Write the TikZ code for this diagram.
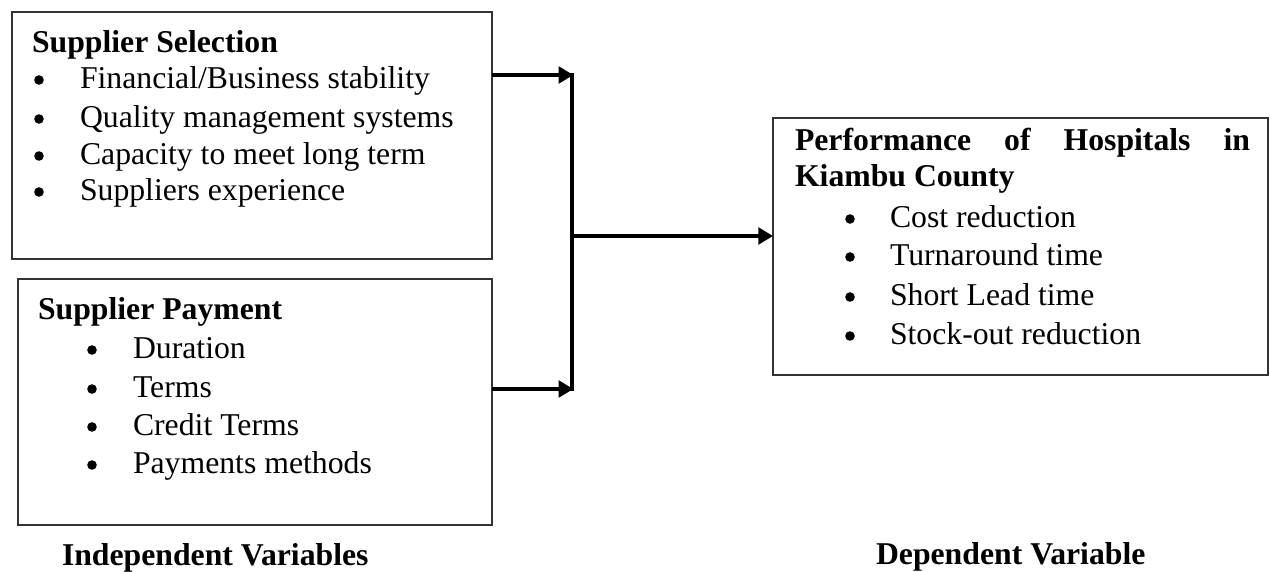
\documentclass[tikz,border=0pt]{standalone}
\usepackage{fontspec}
\setmainfont{Liberation Serif}
\usetikzlibrary{arrows.meta,fit}
\begin{document}
\begin{tikzpicture}[x=0.75pt,y=-0.75pt,
  every node/.style={inner sep=0pt,outer sep=0pt,font=\fontsize{23.8pt}{28pt}\selectfont},
  box/.style={draw=black!80,line width=1.1pt,inner sep=0pt},
  txt/.style={anchor=base west},
  hdr/.style={anchor=base west,font=\fontsize{23.8pt}{28pt}\selectfont\bfseries},
  bul/.style={circle,fill=black,minimum size=7.2pt,yshift=6pt},
  arr/.style={line width=2.3pt,-{Triangle[length=11pt,width=12.5pt]}},
  bar/.style={line width=3.4pt}
]
\useasboundingbox (0,0) rectangle (1270,571);
% boxes
\node[box,fit={(12,12)(492,259)}] (b1) {};
\node[box,fit={(18,279)(492,525)}] (b2) {};
\node[box,fit={(773,118)(1268,375)}] (b3) {};
% box 1 text
\node[hdr] (h1) at (32,52) {Supplier Selection};
\node[bul] (p1a) at (39,88) {};
\node[txt] (t1a) at (80,88) {Financial/Business stability};
\node[bul] (p1b) at (39,127) {};
\node[txt] (t1b) at (80,127) {Quality management systems};
\node[bul] (p1c) at (39,164) {};
\node[txt] (t1c) at (80,164) {Capacity to meet long term};
\node[bul] (p1d) at (39,200) {};
\node[txt] (t1d) at (80,200) {Suppliers experience};
% box 2 text
\node[hdr] (h2) at (38,319) {Supplier Payment};
\node[bul] (p2a) at (92,358) {};
\node[txt] (t2a) at (133,358) {Duration};
\node[bul] (p2b) at (92,397) {};
\node[txt] (t2b) at (133,397) {Terms};
\node[bul] (p2c) at (92,435) {};
\node[txt] (t2c) at (133,435) {Credit Terms};
\node[bul] (p2d) at (92,473) {};
\node[txt] (t2d) at (133,473) {Payments methods};
% box 3 text
\node[hdr] (h3a) at (795,150) {\makebox[341.25pt][s]{Performance of Hospitals in}};
\node[hdr] (h3b) at (795,186) {Kiambu County};
\node[bul] (p3a) at (850,227) {};
\node[txt] (t3a) at (890,227) {Cost reduction};
\node[bul] (p3b) at (850,265) {};
\node[txt] (t3b) at (890,265) {Turnaround time};
\node[bul] (p3c) at (850,305) {};
\node[txt] (t3c) at (890,305) {Short Lead time};
\node[bul] (p3d) at (850,344) {};
\node[txt] (t3d) at (890,344) {Stock-out reduction};
% captions
\node[hdr] (ci) at (62,565) {Independent Variables};
\node[hdr] (cd) at (876,564) {Dependent Variable};
% connectors
\coordinate (j1) at (572,75);
\coordinate (j2) at (572,389);
\coordinate (jm) at (572,236);
\draw[bar] ([yshift=1.5pt]j1) -- ([yshift=-1.5pt]j2);
\draw[arr] (b1.east |- j1) -- ([xshift=1pt]j1);
\draw[arr] (b2.east |- j2) -- ([xshift=1pt]j2);
\draw[arr] (jm) -- (b3.west |- jm);
\end{tikzpicture}
\end{document}
